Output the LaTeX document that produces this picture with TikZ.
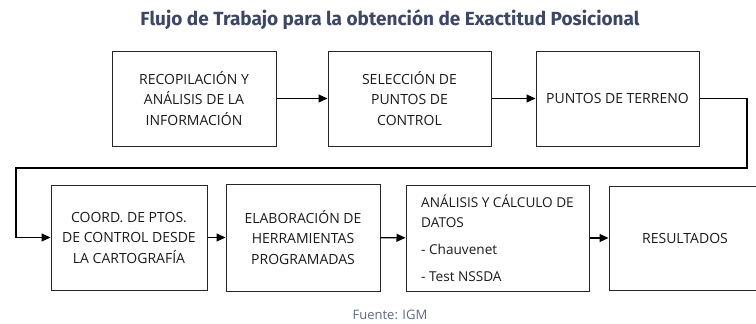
\documentclass[tikz,border=0pt]{standalone}
\usepackage{fontspec}
\setmainfont{Open Sans}
\newfontfamily\titlefont{Fira Sans}
\usetikzlibrary{arrows.meta}
\definecolor{titleblue}{HTML}{3B4668}
\definecolor{footblue}{HTML}{5A6788}
\definecolor{txt}{HTML}{1A1A1A}
\begin{document}
\begin{tikzpicture}[x=1pt,y=-1pt,
  box/.style={draw=black!85,line width=1pt,inner sep=0pt,align=center,
    font=\fontsize{14}{20.5}\selectfont,text=txt},
  conn/.style={line width=1.1pt,-{Triangle[length=9pt,width=8pt]}}]
\useasboundingbox (0,0) rectangle (756,324);
\clip (0,0) rectangle (756,324);
\node[font=\titlefont\bfseries\fontsize{19}{22}\selectfont,text=titleblue] (title) at (390,20) {Flujo de Trabajo para la obtención de Exactitud Posicional};
\node[box,minimum width=164pt,minimum height=95pt] (b1) at (194,98.5) {RECOPILACIÓN Y\\ANÁLISIS DE LA\\INFORMACIÓN};
\node[box,minimum width=163pt,minimum height=95pt] (b2) at (409.5,98.5) {SELECCIÓN DE\\PUNTOS DE\\CONTROL};
\node[box,minimum width=163pt,minimum height=95pt] (b3) at (617.5,98.5) {PUNTOS DE TERRENO};
\node[box,minimum width=156pt,minimum height=105pt] (b4) at (129,237.5) {COORD. DE PTOS.\\DE CONTROL DESDE\\LA CARTOGRAFÍA};
\node[box,minimum width=154pt,minimum height=107pt] (b5) at (303,237.5) {ELABORACIÓN DE\\HERRAMIENTAS\\PROGRAMADAS};
\node[box,minimum width=183pt,minimum height=106pt,align=left,font=\fontsize{13.6}{20}\selectfont] (b6) at (497.5,238) {ANÁLISIS Y CÁLCULO DE\\DATOS\\[7pt]- Chauvenet\\[7pt]- Test NSSDA};
\node[box,minimum width=171pt,minimum height=104pt] (b7) at (694.5,238) {};
\node[font=\fontsize{14}{16}\selectfont,text=txt] (b7t) at (685,238) {RESULTADOS};
\coordinate (c1) at (747,168);
\coordinate (c2) at (16,168);
\draw[conn] (b1) -- (b2);
\draw[conn] (b2) -- (b3);
\draw[conn] (b3.east) -| (c1) -- (c2) |- (b4.west);
\draw[conn] (b4) -- (b5);
\draw[conn] (b5) -- (b6);
\draw[conn] (b6.east) -- (b6.east -| b7.west);
\node[font=\fontsize{13}{15}\selectfont,text=footblue] (foot) at (390,315) {Fuente: IGM};
\end{tikzpicture}
\end{document}
